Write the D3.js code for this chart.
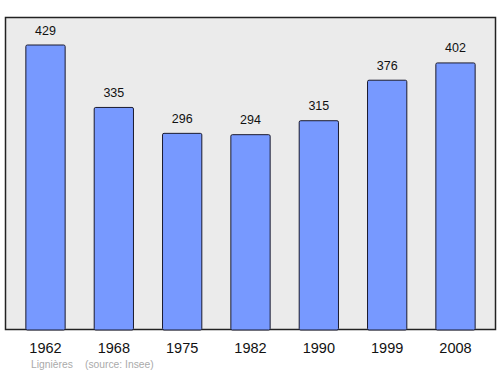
<!DOCTYPE html>
<html><head><meta charset="utf-8">
<script src="https://cdn.jsdelivr.net/npm/d3@7"></script>
<style>body{margin:0;background:#fff}svg{display:block}</style>
</head><body>
<svg id="c" width="500" height="374"></svg>
<script>
const years = ["1962","1968","1975","1982","1990","1999","2008"];
const values = [429,335,296,294,315,376,402];
const place = "Lignières";
const source = "(source: Insee)";

const svg = d3.select("#c");
const font = "Liberation Sans, Arial, sans-serif";
svg.append("rect").attr("x",5.5).attr("y",17.5).attr("width",490).attr("height",312)
  .attr("fill","#ebebeb").attr("stroke","#222").attr("stroke-width",1.5);

const x = d3.scalePoint().domain(years).range([45.5,455.5]);
const bw = x.step()*0.575;
const y = d3.scaleLinear().domain([0,429]).range([330,45]);

svg.selectAll("rect.bar").data(values).join("rect").attr("class","bar")
  .attr("x",(d,i)=>x(years[i])-bw/2).attr("y",d=>y(d))
  .attr("width",bw).attr("height",d=>y(0)-y(d))
  .attr("rx",1.5)
  .attr("fill","#7799ff").attr("stroke","#1a1a2e").attr("stroke-width",1);

svg.selectAll("text.val").data(values).join("text").attr("class","val")
  .attr("x",(d,i)=>x(years[i])).attr("y",d=>y(d)-10.5)
  .attr("text-anchor","middle").attr("font-family",font).attr("font-size",12.5)
  .attr("fill","#111").text(d=>d);

svg.selectAll("text.yr").data(years).join("text").attr("class","yr")
  .attr("x",d=>x(d)).attr("y",352.5)
  .attr("text-anchor","middle").attr("font-family",font).attr("font-size",14.5)
  .attr("fill","#111").text(d=>d);

svg.append("text").attr("x",31).attr("y",367.5).attr("font-family",font).attr("font-size",10.3)
  .attr("fill","#aaa").text(place);
svg.append("text").attr("x",85).attr("y",367.5).attr("font-family",font).attr("font-size",10.3)
  .attr("fill","#aaa").text(source);
</script>
</body></html>
